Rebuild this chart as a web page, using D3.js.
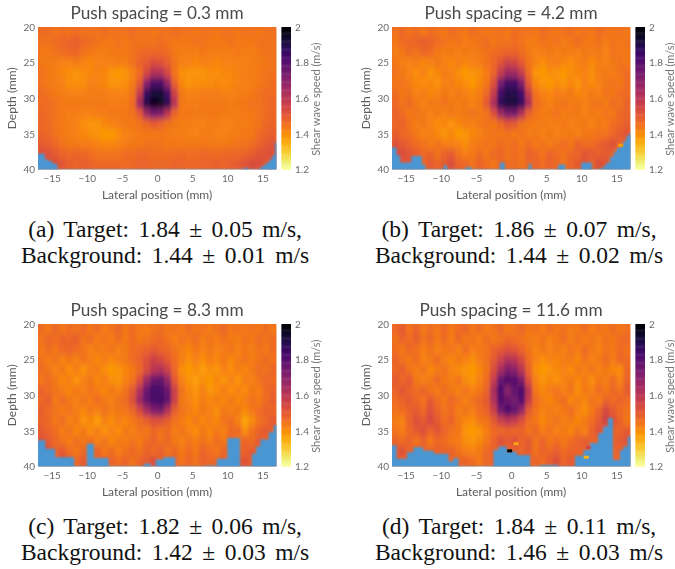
<!DOCTYPE html>
<html>
<head>
<meta charset="utf-8">
<script src="https://cdn.jsdelivr.net/npm/d3@7"></script>
<style>
    html, body { margin: 0; padding: 0; background: #fff; }
    svg { display: block; }
    .tick-text { font-family: Lato, sans-serif; font-size: 10px; fill: #6a6a6a; }
    .axis-title { font-family: Lato, sans-serif; font-size: 12px; fill: #5c5c5c; }
    .panel-title { font-family: Lato, sans-serif; font-size: 17.2px; fill: #4a4a4a; }
    .caption { font-family: "Liberation Serif", serif; font-size: 23.5px; word-spacing: 3.6px; fill: #111; }
</style>
</head>
<body>
<div id="chart"></div>
<script>
// cell centres of the speed maps
const lateralBins = [-16.5, -15.5, -14.5, -13.5, -12.5, -11.5, -10.5, -9.5, -8.5, -7.5, -6.5, -5.5, -4.5, -3.5, -2.5, -1.5, -0.5,
    0.5, 1.5, 2.5, 3.5, 4.5, 5.5, 6.5, 7.5, 8.5, 9.5, 10.5, 11.5, 12.5, 13.5, 14.5, 15.5, 16.5];
const depthBins = [20.7, 22.1, 23.6, 25, 26.4, 27.9, 29.3, 30.7, 32.1, 33.6, 35, 36.4, 37.9, 39.3];

const lateralTicks = [-15, -10, -5, 0, 5, 10, 15];
const depthTicks = [20, 25, 30, 35, 40];
const speedTicks = [1.2, 1.4, 1.6, 1.8, 2];

const titles = ['Push spacing = 0.3 mm', 'Push spacing = 4.2 mm', 'Push spacing = 8.3 mm', 'Push spacing = 11.6 mm'];
const captionTop = ['(a) Target: 1.84 \u00b1 0.05 m/s,', '(b) Target: 1.86 \u00b1 0.07 m/s,', '(c) Target: 1.82 \u00b1 0.06 m/s,', '(d) Target: 1.84 \u00b1 0.11 m/s,'];
const captionBottom = ['Background: 1.44 \u00b1 0.01 m/s', 'Background: 1.44 \u00b1 0.02 m/s', 'Background: 1.42 \u00b1 0.03 m/s', 'Background: 1.46 \u00b1 0.03 m/s'];

// speed, as hundredths of m/s above 0.98 m/s (46 = 1.44 m/s), one row per depth bin
const speedA = [
    [48,48,47,48,47,48,47,47,47,48,47,47,47,48,47,47,46,47,47,48,47,47,46,47,47,46,47,47,46,47,47,46,47,47],
    [47,47,48,49,50,51,49,48,47,46,46,47,46,47,47,47,47,48,47,46,46,46,47,47,46,46,46,47,46,46,46,47,47,47],
    [46,46,47,48,49,49,47,46,45,45,46,46,46,47,48,49,49,49,48,46,45,45,45,46,45,45,45,45,46,45,45,46,47,47],
    [46,46,45,44,44,45,44,43,44,44,44,45,45,47,50,52,55,54,51,47,44,44,43,44,44,43,44,44,44,44,45,46,46,47],
    [47,46,45,43,42,41,42,43,44,43,41,40,41,44,48,56,64,64,56,47,42,41,41,41,42,42,43,43,44,45,45,46,47,47],
    [47,46,45,44,42,42,42,44,44,43,41,41,42,45,52,72,84,84,70,50,43,41,42,42,42,43,42,43,44,44,45,46,47,48],
    [48,47,46,45,44,44,44,45,45,45,44,44,44,47,60,88,94,94,86,58,46,44,44,45,45,45,44,44,45,45,46,47,48,48],
    [48,48,47,46,46,46,46,46,46,46,45,45,45,48,68,92,98,97,90,63,46,45,45,46,46,46,46,45,46,46,47,47,48,49],
    [49,48,47,46,45,45,44,44,45,45,46,46,46,47,52,68,76,74,62,49,46,46,46,46,46,46,45,45,45,46,46,47,48,49],
    [49,48,47,46,45,44,42,41,41,43,44,45,46,46,47,49,52,50,47,46,45,45,44,44,45,45,44,44,45,45,46,47,49,50],
    [50,49,47,46,45,44,43,42,41,40,40,42,44,45,46,46,46,46,46,45,45,44,44,45,45,44,44,45,45,46,46,48,50,51],
    [52,51,49,47,46,46,45,45,44,43,43,44,45,46,46,47,47,47,46,46,46,46,46,46,46,46,46,46,47,47,48,50,52,53],
    [54,54,52,50,49,50,49,48,47,47,47,47,48,48,49,49,48,48,48,48,49,48,48,49,49,48,49,49,49,50,51,53,54,54],
    [52,53,55,53,51,50,51,50,49,49,49,49,48,49,50,50,49,49,49,50,50,49,49,50,50,51,50,51,52,54,56,55,52,52]
];
const speedB = [
    [47,49,47,48,46,48,47,46,48,47,46,48,47,46,47,47,46,48,47,47,46,48,47,46,47,48,46,47,46,48,47,46,47,46],
    [46,48,49,50,51,50,48,47,46,47,45,46,47,48,46,47,47,48,47,45,46,47,46,47,45,46,48,46,46,47,45,47,46,47],
    [45,46,48,47,49,48,46,45,46,44,46,45,46,47,48,49,50,50,48,46,44,45,46,44,46,45,44,46,45,46,44,47,46,46],
    [46,45,44,45,43,44,46,44,43,45,43,44,45,47,49,53,58,57,52,47,44,42,44,45,43,42,44,45,43,45,44,46,47,46],
    [47,46,44,42,44,41,43,45,44,42,40,41,42,45,50,60,68,68,60,48,41,40,42,41,40,42,43,44,42,45,46,45,47,48],
    [46,47,45,43,42,43,41,44,45,43,42,40,43,46,54,76,86,86,74,52,43,41,40,42,41,43,41,44,42,44,46,47,46,48],
    [48,46,47,44,45,43,44,46,44,46,44,43,45,49,60,86,92,92,86,60,47,44,43,45,44,46,43,44,46,44,47,46,48,48],
    [49,47,48,46,44,46,45,47,46,45,46,44,46,52,66,90,93,93,88,66,48,46,44,46,47,45,46,44,46,47,45,48,47,50],
    [50,48,46,47,46,44,46,44,46,45,46,47,46,47,54,68,76,76,64,50,47,45,46,47,45,46,46,44,46,45,47,46,49,50],
    [49,50,47,45,46,44,42,43,41,43,45,44,46,47,46,49,53,52,47,46,45,46,44,45,46,44,45,46,44,46,45,48,49,51],
    [51,49,48,46,44,45,43,41,43,40,41,43,44,46,47,46,47,46,47,45,46,44,46,44,45,46,44,46,46,47,47,49,52,53],
    [54,52,50,48,47,45,47,45,44,44,42,45,46,47,46,48,47,48,46,48,46,47,45,47,48,46,50,48,48,50,52,54,50,50],
    [56,55,53,51,49,50,47,50,52,47,45,46,48,46,49,49,47,48,47,50,49,47,50,48,47,49,50,53,52,51,52,50,47,45],
    [50,52,54,50,49,52,50,52,55,50,49,47,50,48,46,49,48,48,47,49,50,48,50,49,47,50,52,53,50,55,53,48,47,47]
];
const speedC = [
    [48,46,49,46,48,47,49,46,48,45,47,49,46,48,46,45,47,48,46,47,45,48,46,47,45,47,49,46,47,45,47,46,48,46],
    [47,49,48,50,49,51,47,48,45,47,45,48,46,48,46,47,48,49,47,45,47,46,48,45,47,45,47,46,45,47,46,48,47,48],
    [46,48,46,49,50,48,47,44,46,45,47,44,46,48,49,50,52,50,49,47,45,43,46,44,46,44,45,47,44,46,45,47,46,48],
    [47,45,47,44,46,44,47,45,43,45,43,45,46,48,50,54,58,56,52,48,45,42,44,42,45,43,46,43,45,47,45,47,48,47],
    [48,47,44,46,42,45,41,44,45,42,40,41,43,46,49,55,62,64,58,49,42,40,42,39,42,41,44,42,45,43,46,48,47,49],
    [46,48,46,43,45,41,44,46,43,45,42,41,44,47,54,68,78,80,70,52,44,41,39,42,40,43,41,44,41,45,44,47,49,48],
    [50,48,47,45,43,46,44,47,45,43,46,44,47,52,64,78,86,84,78,58,47,43,41,44,41,42,45,42,44,42,46,45,48,50],
    [49,51,46,48,46,44,47,45,48,46,44,47,48,54,68,80,84,86,80,58,46,44,42,45,43,45,43,46,43,45,47,46,48,51],
    [51,48,47,45,47,45,43,46,44,47,45,46,47,49,56,66,74,76,64,51,47,45,43,46,44,42,46,44,46,43,46,48,50,49],
    [50,49,46,48,44,46,41,43,39,44,42,45,43,46,48,51,54,54,51,47,45,43,46,43,45,43,47,48,44,38,42,47,49,52],
    [52,50,48,45,47,43,46,42,45,41,44,42,46,44,47,46,49,47,48,45,47,44,42,46,43,46,44,48,49,42,47,50,52,50],
    [54,52,49,47,45,48,46,48,44,47,43,46,45,47,45,48,50,47,49,46,44,47,45,47,45,48,46,50,47,50,48,52,50,50],
    [55,54,50,52,48,46,49,47,50,46,48,45,47,49,47,50,48,51,47,49,46,48,46,50,48,46,50,47,49,50,52,50,50,50],
    [50,50,50,55,52,49,52,50,50,50,50,48,50,47,50,52,55,50,50,50,47,49,47,50,49,50,50,50,52,54,51,50,50,50]
];
const speedD = [
    [49,52,47,50,46,48,46,49,46,48,50,46,48,45,47,49,46,47,49,46,47,45,48,46,47,45,46,48,45,47,46,48,46,47],
    [47,50,48,51,47,49,46,48,45,49,46,47,45,48,46,47,49,48,47,46,45,47,44,46,48,45,47,45,47,45,47,46,48,49],
    [48,46,49,47,45,47,44,46,47,44,48,45,46,47,50,52,54,53,50,47,44,46,44,46,44,47,45,48,46,44,47,46,48,47],
    [50,47,46,48,44,46,48,45,43,46,44,42,45,47,52,58,64,62,56,48,44,42,44,43,45,46,43,47,44,46,48,45,49,48],
    [49,51,47,45,47,43,45,47,44,42,41,40,43,47,55,66,74,72,62,50,42,40,41,43,44,42,46,44,47,44,46,43,42,49],
    [52,49,52,46,44,46,49,46,45,47,42,41,44,48,60,78,84,82,74,54,44,41,43,41,44,46,43,45,42,46,45,48,44,50],
    [50,53,50,48,50,47,45,48,46,44,47,44,46,50,66,84,72,80,84,62,46,43,45,47,44,47,42,46,44,48,46,49,47,52],
    [48,50,52,49,47,52,48,46,49,47,44,47,49,52,64,82,78,76,82,60,48,45,43,46,48,43,45,43,47,45,50,48,50,48],
    [47,48,50,52,49,54,50,47,48,45,47,45,48,50,58,76,84,80,70,52,47,44,46,44,46,48,44,42,46,50,56,52,48,47],
    [45,44,50,54,52,56,52,48,50,46,43,42,46,47,52,58,62,60,54,48,46,43,45,47,44,46,43,46,48,52,58,54,50,46],
    [47,45,49,52,54,50,53,50,47,46,41,40,41,45,48,49,50,49,50,47,49,45,47,44,46,43,47,44,50,54,50,50,50,52],
    [50,48,50,47,50,46,49,48,46,45,42,41,43,46,50,54,52,54,50,52,47,50,46,48,46,48,50,52,50,50,50,50,52,54],
    [52,54,50,50,50,50,50,50,50,47,45,44,46,49,50,50,50,50,50,52,47,50,49,51,48,50,50,50,50,50,50,50,50,50],
    [50,50,50,50,50,50,50,50,50,50,50,48,46,49,50,50,50,50,50,50,50,48,52,55,50,52,50,50,50,50,50,50,50,50]
];

// top edge of the blue no-data region: step outline, lateral (mm) and depth (mm)
const edgeLateralA = [-18, -16, -15.5, -14.9, -14.2, 12.3, 13, 14.7, 15.2, 15.6, 16, 16.4, 16.8, 18];
const edgeDepthA = [37.8, 38.6, 38.8, 39.2, 40, 39.8, 40, 39.6, 39.3, 39, 38.6, 38, 36.2, 36.2];
const edgeLateralB = [-18, -16.3, -15.8, -14.2, -12.7, -12.2, -9.6, -9.1, -6.5, -5.6, -1.6, -0.9, 2.5, 2.9, 6.7, 7.7, 10, 11.5, 12.7, 13.2, 13.6, 14.1, 14.6, 15, 15.5, 16, 16.4, 16.8, 18];
const edgeDepthB = [36.9, 38, 39, 38.1, 39.3, 40, 39.4, 40, 39.7, 40, 39, 40, 39.2, 40, 39.3, 40, 39, 40, 39.8, 39.4, 39, 38.2, 37.6, 37, 36.5, 36, 35.3, 34.9, 34.9];
const edgeLateralC = [-18, -15.9, -14.5, -11.8, -10, -9, -6.9, -1.9, -0.9, -0.2, 0.9, 2.6, 6.9, 8.5, 10, 11.8, 13.5, 14.1, 14.7, 15.9, 16.6, 18];
const edgeDepthC = [36.3, 37.5, 38.7, 40, 36.8, 38.8, 40, 39.6, 40, 39, 38.7, 40, 39.9, 38.9, 36, 40, 38.2, 37.2, 36.2, 35.2, 34.2, 34.2];
const edgeLateralD = [-18, -16.3, -14.8, -13.9, -12.5, -11, -8.9, -8.2, -7.5, -2.5, -1.8, -0.6, 0.8, 2.7, 4.1, 6.7, 9.1, 10.3, 11.2, 12.4, 13.1, 13.8, 14.5, 15.5, 16, 16.6, 18];
const edgeDepthD = [37, 38.9, 38, 37.3, 37.8, 38.2, 39.3, 38.8, 40, 37.7, 37.2, 37.9, 38.4, 40, 39.8, 40, 38.5, 37.7, 36.7, 35.3, 34.4, 33.2, 39.1, 37.7, 37.2, 35.8, 35.2];

// the few single cells that still hold a speed inside the blue region
const spotLateralB = [15.6];
const spotDepthB = [36.6];
const spotSpeedB = [1.38];
const spotLateralD = [-0.2, 0.7, 10.7, 11];
const spotDepthD = [37.8, 36.8, 38.7, 37.3];
const spotSpeedD = [2, 1.36, 1.34, 1.55];

const speeds = [speedA, speedB, speedC, speedD];
const edgeLaterals = [edgeLateralA, edgeLateralB, edgeLateralC, edgeLateralD];
const edgeDepths = [edgeDepthA, edgeDepthB, edgeDepthC, edgeDepthD];
const spotLaterals = [[], spotLateralB, [], spotLateralD];
const spotDepths = [[], spotDepthB, [], spotDepthD];
const spotSpeeds = [[], spotSpeedB, [], spotSpeedD];

const width = 675;
const height = 569;
const plotWidth = 238.5;
const plotHeight = 142.5;
const offsetsX = [38, 392, 38, 392];
const offsetsY = [27, 27, 324, 324];
const blue = '#4a96d2';

const svg = d3.select('#chart').append('svg').attr('width', width).attr('height', height);
const defs = svg.append('defs');
defs.append('filter').attr('id', 'soften').attr('x', '-5%').attr('y', '-5%').attr('width', '110%').attr('height', '110%')
    .append('feGaussianBlur').attr('stdDeviation', '1.5 3');
defs.append('filter').attr('id', 'soften-edge').attr('x', '-5%').attr('y', '-5%').attr('width', '110%').attr('height', '110%')
    .append('feGaussianBlur').attr('stdDeviation', 0.9);
defs.append('filter').attr('id', 'soften-text').attr('x', '-5%').attr('y', '-5%').attr('width', '110%').attr('height', '110%')
    .append('feGaussianBlur').attr('stdDeviation', 0.3);
defs.append('clipPath').attr('id', 'plot-clip').append('rect').attr('width', plotWidth).attr('height', plotHeight);

const lateral = d3.scaleLinear().domain([-16.95, 17]).range([0, plotWidth]);
const depth = d3.scaleLinear().domain([20, 40]).range([0, plotHeight]);
const speedScale = d3.scaleLinear().domain([2, 1.2]).range([0, plotHeight]);
const color = d3.scaleSequential(t => d3.interpolateInferno(1 - t)).domain([1.2, 2]);
const cellX = d3.scaleBand().domain(lateralBins).range([lateral(-17), lateral(17)]);
const cellY = d3.scaleBand().domain(depthBins).range([0, plotHeight]);

function drawPanel(i) {
    const panel = svg.append('g').attr('transform', `translate(${offsetsX[i]},${offsetsY[i]})`);
    const plot = panel.append('g').attr('clip-path', 'url(#plot-clip)');
    plot.append('rect').attr('width', plotWidth).attr('height', plotHeight).attr('fill', color(1.46));

    const cells = [];
    speeds[i].forEach((row, r) => row.forEach((v, c) => cells.push({ x: lateralBins[c], y: depthBins[r], v: 0.98 + v / 100 })));
    plot.append('g').attr('filter', 'url(#soften)')
        .selectAll('rect').data(cells).join('rect')
        .attr('x', d => cellX(d.x)).attr('y', d => cellY(d.y))
        .attr('width', cellX.bandwidth() + 0.5).attr('height', cellY.bandwidth() + 0.5)
        .attr('fill', d => color(d.v));

    const blueArea = d3.area()
        .x((d, k) => lateral(edgeLaterals[i][k]))
        .y0(plotHeight + 8)
        .y1(d => depth(d))
        .curve(d3.curveStepAfter);
    plot.append('path').datum(edgeDepths[i])
        .attr('d', blueArea).attr('fill', blue).attr('filter', 'url(#soften-edge)');

    plot.append('g').attr('filter', 'url(#soften-text)').selectAll('rect').data(spotSpeeds[i]).join('rect')
        .attr('x', (d, k) => lateral(spotLaterals[i][k]) - 2.5)
        .attr('y', (d, k) => depth(spotDepths[i][k]) - 1.5)
        .attr('width', 5).attr('height', 3)
        .attr('fill', d => color(d));

    const labels = panel.append('g').attr('filter', 'url(#soften-text)');
    const xAxis = labels.append('g').attr('transform', `translate(0,${plotHeight})`)
        .call(d3.axisBottom(lateral).tickValues(lateralTicks).tickSize(0).tickPadding(5));
    const yAxis = labels.append('g').call(d3.axisLeft(depth).tickValues(depthTicks).tickSize(0).tickPadding(3));
    [xAxis, yAxis].forEach(a => {
        a.select('.domain').remove();
        a.selectAll('text').attr('class', 'tick-text').attr('fill', null);
        a.attr('font-family', null).attr('font-size', null);
    });

    labels.append('text').attr('class', 'panel-title').attr('text-anchor', 'middle')
        .attr('x', lateral(0)).attr('y', -8).text(titles[i]);
    labels.append('text').attr('class', 'axis-title').attr('text-anchor', 'middle')
        .attr('x', lateral(0)).attr('y', plotHeight + 29).text('Lateral position (mm)');
    labels.append('text').attr('class', 'axis-title').attr('text-anchor', 'middle')
        .attr('transform', `translate(-22,${plotHeight / 2}) rotate(-90)`).text('Depth (mm)');

    // colour bar
    const bar = panel.append('g').attr('transform', `translate(${plotWidth + 5},0)`);
    bar.selectAll('rect').data(d3.range(1.2, 2.0, 0.005)).join('rect')
        .attr('x', 0).attr('y', d => speedScale(d + 0.005))
        .attr('width', 9.5).attr('height', speedScale(1.2) - speedScale(1.205) + 0.5)
        .attr('fill', d => color(d));
    const barLabels = bar.append('g').attr('filter', 'url(#soften-text)');
    const barAxis = barLabels.append('g').attr('transform', 'translate(9.5,0)')
        .call(d3.axisRight(speedScale).tickValues(speedTicks).tickFormat(d3.format('~g')).tickSize(0).tickPadding(4));
    barAxis.select('.domain').remove();
    barAxis.selectAll('text').attr('class', 'tick-text').attr('fill', null);
    barAxis.attr('font-family', null).attr('font-size', null);
    barLabels.append('text').attr('class', 'axis-title').attr('text-anchor', 'middle')
        .style('fill', '#777').style('font-size', '11px')
        .attr('transform', `translate(38,${plotHeight / 2 + 1}) rotate(-90)`).text('Shear wave speed (m/s)');

    const cx = lateral(0) + 8;
    panel.append('text').attr('class', 'caption').attr('text-anchor', 'middle')
        .attr('x', cx).attr('y', 210).text(captionTop[i]);
    panel.append('text').attr('class', 'caption').attr('text-anchor', 'middle')
        .attr('x', cx).attr('y', 236).text(captionBottom[i]);
}

titles.forEach((t, i) => drawPanel(i));
</script>
</body>
</html>
